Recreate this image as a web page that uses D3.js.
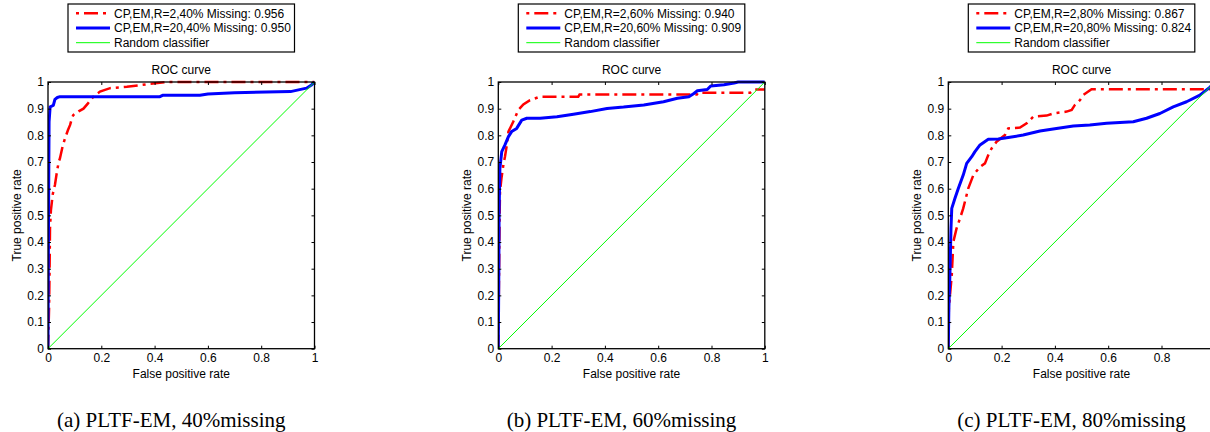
<!DOCTYPE html>
<html><head><meta charset="utf-8">
<script src="https://cdn.jsdelivr.net/npm/d3@7"></script>
<style>
body{margin:0;background:#fff}
svg{display:block}
.sans{font-family:"Liberation Sans",Arial,Helvetica,sans-serif}
.serif{font-family:"Liberation Serif","Times New Roman",serif}
</style>
</head><body>
<svg id="chart" width="1210" height="432"></svg>
<script>
// ---------------- DATA ----------------
const panelIds = ["40", "60", "80"];
const captions = ["(a) PLTF-EM, 40%missing", "(b) PLTF-EM, 60%missing", "(c) PLTF-EM, 80%missing"];
const legendR2 = ["CP,EM,R=2,40% Missing: 0.956", "CP,EM,R=2,60% Missing: 0.940", "CP,EM,R=2,80% Missing: 0.867"];
const legendR20 = ["CP,EM,R=20,40% Missing: 0.950", "CP,EM,R=20,60% Missing: 0.909", "CP,EM,R=20,80% Missing: 0.824"];
const legendRandom = "Random classifier";
const chartTitle = "ROC curve";
const xLabel = "False positive rate";
const yLabel = "True positive rate";
const xTicks = [0, 0.2, 0.4, 0.6, 0.8, 1];
const xTickLabels = ["0", "0.2", "0.4", "0.6", "0.8", "1"];
const yTicks = [0, 0.1, 0.2, 0.3, 0.4, 0.5, 0.6, 0.7, 0.8, 0.9, 1];
const yTickLabels = ["0", "0.1", "0.2", "0.3", "0.4", "0.5", "0.6", "0.7", "0.8", "0.9", "1"];

// ROC points [false positive rate, true positive rate]
const rocR2_40 = [[0,0],[0.004,0.15],[0.006,0.3],[0.0075,0.45],[0.011,0.52],[0.018,0.58],[0.026,0.614],[0.033,0.66],[0.04,0.7],[0.045,0.714],[0.055,0.76],[0.064,0.789],[0.075,0.82],[0.083,0.839],[0.09,0.865],[0.095,0.876],[0.115,0.89],[0.133,0.9],[0.15,0.92],[0.17,0.945],[0.195,0.964],[0.233,0.977],[0.296,0.982],[0.383,0.993],[0.45,1],[1,1]];
const rocR20_40 = [[0,0],[0.002,0.5],[0.004,0.85],[0.008,0.907],[0.02,0.912],[0.026,0.935],[0.035,0.942],[0.045,0.945],[0.42,0.945],[0.43,0.95],[0.57,0.95],[0.6,0.955],[0.7,0.96],[0.91,0.964],[0.97,0.977],[0.99,0.99],[1,1]];
const rocR2_60 = [[0,0],[0.003,0.3],[0.005,0.5],[0.0064,0.589],[0.012,0.64],[0.019,0.689],[0.025,0.72],[0.032,0.764],[0.038,0.814],[0.056,0.851],[0.075,0.895],[0.094,0.916],[0.119,0.932],[0.157,0.945],[0.3,0.945],[0.305,0.953],[0.745,0.953],[0.75,0.96],[0.945,0.96],[0.96,0.972],[1,0.972]];
const rocR20_60 = [[0,0],[0.002,0.3],[0.003,0.514],[0.006,0.676],[0.013,0.739],[0.025,0.764],[0.038,0.795],[0.05,0.814],[0.069,0.826],[0.088,0.857],[0.107,0.864],[0.157,0.864],[0.22,0.87],[0.282,0.879],[0.345,0.889],[0.408,0.901],[0.47,0.906],[0.546,0.914],[0.62,0.926],[0.672,0.939],[0.715,0.945],[0.734,0.957],[0.747,0.967],[0.784,0.972],[0.797,0.985],[0.847,0.99],[0.885,0.996],[0.9,1],[1,1]];
const rocR2_80 = [[0,0],[0.002,0.15],[0.013,0.276],[0.019,0.401],[0.031,0.451],[0.044,0.489],[0.056,0.526],[0.075,0.601],[0.094,0.651],[0.119,0.682],[0.1375,0.695],[0.15,0.726],[0.1625,0.751],[0.181,0.776],[0.2125,0.801],[0.225,0.826],[0.269,0.829],[0.294,0.845],[0.319,0.87],[0.369,0.874],[0.394,0.882],[0.444,0.889],[0.463,0.895],[0.475,0.914],[0.494,0.932],[0.506,0.951],[0.5375,0.973],[1,0.973]];
const rocR20_80 = [[0,0],[0.002,0.15],[0.006,0.276],[0.01,0.45],[0.013,0.526],[0.025,0.564],[0.0375,0.601],[0.056,0.651],[0.069,0.695],[0.088,0.72],[0.1,0.739],[0.119,0.764],[0.15,0.785],[0.1875,0.786],[0.231,0.793],[0.281,0.801],[0.344,0.816],[0.406,0.826],[0.469,0.835],[0.531,0.839],[0.594,0.845],[0.694,0.851],[0.744,0.864],[0.794,0.882],[0.844,0.907],[0.894,0.926],[0.944,0.951],[0.981,0.98],[1,1]];
const randomClassifier = [[0,0],[1,1]];

const seriesR2 = [rocR2_40, rocR2_60, rocR2_80];
const seriesR20 = [rocR20_40, rocR20_60, rocR20_80];

// ---------------- LAYOUT ----------------
const W = 1210, H = 432;
const svg = d3.select("#chart");
svg.append("rect").attr("width", W).attr("height", H).attr("fill", "#fff");

const plotLefts = [48, 498.3, 948.3];
const plotW = 266.5, plotTop = 82, plotBottom = 348.7;
const RED = "#ff0000", BLUE = "#0000ff", GREEN = "#00ff00";
const dash = "14,5,3,5";

panelIds.forEach((id, i) => {
  const x0 = plotLefts[i];
  const g = svg.append("g");
  const x = d3.scaleLinear().domain([0, 1]).range([x0, x0 + plotW]);
  const y = d3.scaleLinear().domain([0, 1]).range([plotBottom, plotTop]);
  const line = d3.line().x(d => x(d[0])).y(d => y(d[1]));

  const clipId = "clip" + id;
  svg.append("clipPath").attr("id", clipId).append("rect")
    .attr("x", x0).attr("y", plotTop - 3).attr("width", plotW).attr("height", plotBottom - plotTop + 6);

  const plot = g.append("g").attr("clip-path", `url(#${clipId})`);
  plot.append("path").attr("d", line(seriesR2[i])).attr("fill", "none")
    .attr("stroke", RED).attr("stroke-width", 2.5).attr("stroke-dasharray", dash);
  plot.append("path").attr("d", line(seriesR20[i])).attr("fill", "none")
    .attr("stroke", BLUE).attr("stroke-width", 3).attr("stroke-linejoin", "round");
  plot.append("path").attr("d", line(randomClassifier)).attr("fill", "none")
    .attr("stroke", GREEN).attr("stroke-width", 1);

  // axes with inward ticks; tick labels that fall outside the canvas are not shown (as in the reference)
  const visX = xTicks.filter(v => x(v) + 4 <= W);
  const fmtX = v => xTickLabels[xTicks.indexOf(v)];
  const fmtY = v => yTickLabels[yTicks.indexOf(v)];
  const axB = g.append("g").attr("transform", `translate(0,${plotBottom})`)
    .call(d3.axisBottom(x).tickValues(visX).tickFormat(fmtX).tickSize(-3).tickPadding(5));
  const axL = g.append("g").attr("transform", `translate(${x0},0)`)
    .call(d3.axisLeft(y).tickValues(yTicks).tickFormat(fmtY).tickSize(-3).tickPadding(4));
  const axT = g.append("g").attr("transform", `translate(0,${plotTop})`)
    .call(d3.axisTop(x).tickValues(xTicks).tickFormat("").tickSize(-3));
  const axR = g.append("g").attr("transform", `translate(${x0 + plotW},0)`)
    .call(d3.axisRight(y).tickValues(yTicks).tickFormat("").tickSize(-3));
  [axB, axL, axT, axR].forEach(a => {
    a.select(".domain").remove();
    a.selectAll("line").attr("stroke", "#000").attr("stroke-width", 1);
    a.selectAll("text").attr("class", "sans").attr("font-size", 12).attr("fill", "#000");
  });
  g.append("rect").attr("x", x0).attr("y", plotTop).attr("width", plotW).attr("height", plotBottom - plotTop)
    .attr("fill", "none").attr("stroke", "#000").attr("stroke-width", 1.3);

  // title & labels
  const cx = x0 + plotW / 2;
  g.append("text").attr("class", "sans").attr("x", cx).attr("y", 73.6).attr("text-anchor", "middle")
    .attr("font-size", 12).text(chartTitle);
  g.append("text").attr("class", "sans").attr("x", cx).attr("y", 377.5).attr("text-anchor", "middle")
    .attr("font-size", 12).text(xLabel);
  g.append("text").attr("class", "sans")
    .attr("transform", `translate(${x0 - 27.5},${(plotTop + plotBottom) / 2}) rotate(-90)`)
    .attr("text-anchor", "middle").attr("font-size", 12).text(yLabel);

  // legend
  const lx = x0 + 20, ly = 4, lw = plotW - 40, lh = 48;
  g.append("rect").attr("x", lx).attr("y", ly).attr("width", lw).attr("height", lh)
    .attr("fill", "#fff").attr("stroke", "#000").attr("stroke-width", 1.2);
  const rows = [
    {t: legendR2[i], c: RED, w: 2.5, d: dash},
    {t: legendR20[i], c: BLUE, w: 3, d: null},
    {t: legendRandom, c: GREEN, w: 1, d: null}
  ];
  rows.forEach((r, k) => {
    const cy = 13.3 + k * 14.7;
    const ln = g.append("line").attr("x1", lx + 8).attr("x2", lx + 42).attr("y1", cy).attr("y2", cy)
      .attr("stroke", r.c).attr("stroke-width", r.w);
    if (r.d) ln.attr("stroke-dasharray", "3,5,14,5");
    g.append("text").attr("class", "sans").attr("x", lx + 46).attr("y", cy + 4.3)
      .attr("font-size", 12).text(r.t);
  });

  // caption
  g.append("text").attr("class", "serif").attr("x", cx - 10).attr("y", 426.7)
    .attr("text-anchor", "middle").attr("font-size", 21).text(captions[i]);
});
</script>
</body></html>
